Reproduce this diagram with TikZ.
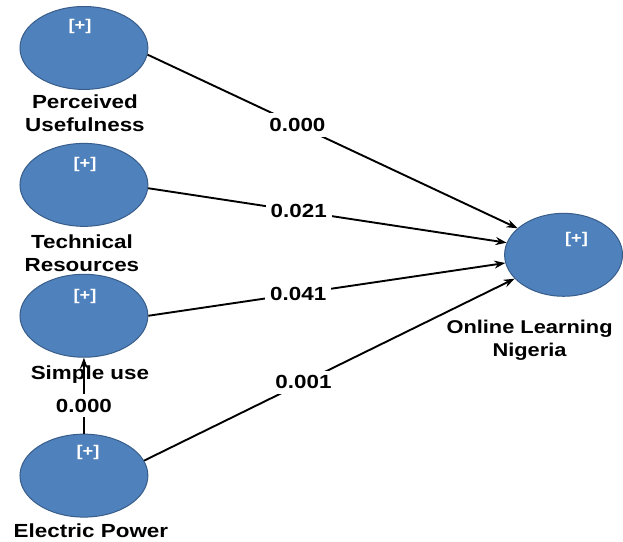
\documentclass[tikz,border=0pt]{standalone}
\usepackage{fontspec}
\setmainfont[FakeStretch=1.18]{Liberation Sans}
\usetikzlibrary{positioning}
\usetikzlibrary{arrows.meta}
\usetikzlibrary{shapes.geometric}
\definecolor{lvblue}{RGB}{79,129,189}
\definecolor{lvedge}{RGB}{56,93,138}

\begin{document}
\begin{tikzpicture}[x=1pt, y=-1pt, every node/.style={font=\fontsize{19}{23}\selectfont\bfseries},
    latent/.style={ellipse, fill=lvblue, draw=lvedge, line width=1pt, minimum width=128, minimum height=83, inner sep=0},
    plus/.style={text=white, inner sep=0, font=\fontsize{15.5}{15.5}\selectfont\bfseries},
    link/.style={line width=1.9pt, -{Stealth[length=11pt,width=8pt]}},
    coef/.style={fill=white, inner sep=5pt}]
    \fill[white] (0,0) rectangle (623,542);
    \foreach \n/\y in {pu/48, tr/185, su/316, ep/476} {
        \node[latent] (\n) at (84,\y) {};
    }
    \node[latent, minimum width=118] (oln) at (564,255) {};
    \foreach \n/\x/\y in {pu/80/27, tr/85/165, su/85/297, ep/88/453, oln/577/240} {
        \node[plus] (\n-plus) at (\x,\y) {[+]};
    }
    \node[align=center] (pu-name) at (85,113) {Perceived\\Usefulness};
    \node[align=center] (tr-name) at (82,253) {Technical\\Resources};
    \node (su-name) at (90,375) {Simple use};
    \node (ep-name) at (91,531) {Electric Power};
    \node[align=center, font=\fontsize{18.5}{23}\selectfont\bfseries] (oln-name) at (530,341) {Online Learning\\Nigeria};
    \draw[link] (pu.-6) -- (oln.150) node[coef, pos=0.405] (pu-coef) {0.000};
    \draw[link] (tr.-3) -- (oln.168) node[coef, pos=0.42] (tr-coef) {0.021};
    \draw[link] (su.east) -- (oln.188) node[coef, pos=0.42] (su-coef) {0.041};
    \draw[link] (ep.14) -- (oln.206) node[coef, pos=0.43] (ep-coef) {0.001};
    \draw[link] (ep.north) -- (su.south) node[coef, pos=0.37] (ep-su-coef) {0.000};
\end{tikzpicture}
\end{document}
